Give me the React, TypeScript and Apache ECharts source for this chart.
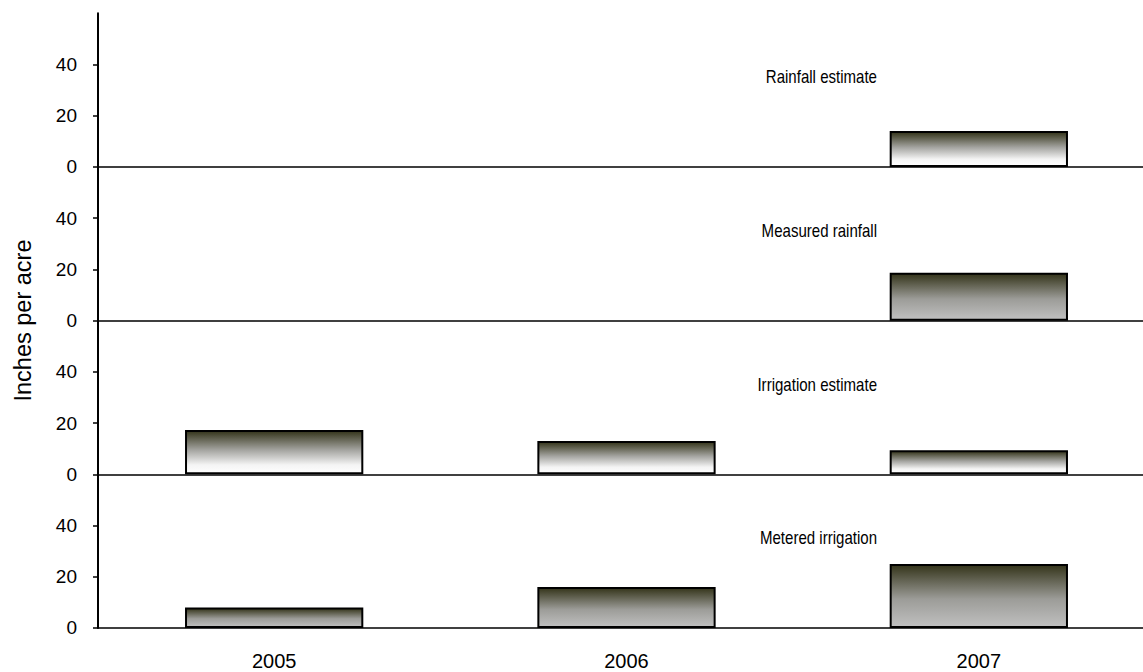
import React, { useEffect, useRef } from "react";
import * as echarts from "echarts";

const years = ["2005", "2006", "2007"];
const panelTitles = ["Rainfall estimate", "Measured rainfall", "Irrigation estimate", "Metered irrigation"];
const rainfallEstimate = [null, null, 14];
const measuredRainfall = [null, null, 18.7];
const irrigationEstimate = [17.3, 13, 9.4];
const meteredIrrigation = [8, 16, 25];
const yTicks = [0, 20, 40];
const yMax = 60;
const axisName = "Inches per acre";

const FONT = "Liberation Sans, Arial, sans-serif";

const lightGrad = {
  type: "linear", x: 0, y: 0, x2: 0, y2: 1,
  colorStops: [
    { offset: 0, color: "#34341a" },
    { offset: 0.45, color: "#a4a4a0" },
    { offset: 0.8, color: "#f4f4f4" },
    { offset: 1, color: "#ffffff" },
  ],
};
const darkGrad = {
  type: "linear", x: 0, y: 0, x2: 0, y2: 1,
  colorStops: [
    { offset: 0, color: "#34341a" },
    { offset: 0.55, color: "#9c9c98" },
    { offset: 1, color: "#c0c0c0" },
  ],
};

export default function App() {
  const ref = useRef<HTMLDivElement>(null);
  useEffect(() => {
    document.body.style.margin = "0";
    const chart = echarts.init(ref.current!, null, { renderer: "svg" });
    const seriesData = [rainfallEstimate, measuredRainfall, irrigationEstimate, meteredIrrigation];
    const grads = [lightGrad, darkGrad, lightGrad, darkGrad];
    const panelTop = 13.3;
    const panelH = 153.67;
    const grids = seriesData.map((_, i) => ({
      left: 98,
      top: panelTop + i * panelH,
      width: 1057,
      height: panelH,
    }));
    const xAxes = seriesData.map((_, i) => ({
      type: "category",
      gridIndex: i,
      data: years,
      axisLine: { lineStyle: { color: "#000", width: 1.6 } },
      axisTick: { show: false },
      axisLabel: {
        show: i === 3,
        color: "#000",
        fontFamily: FONT,
        fontSize: 20,
        margin: 23,
      },
    }));
    const yAxes = seriesData.map((_, i) => ({
      type: "value",
      gridIndex: i,
      min: 0,
      max: yMax,
      interval: 20,
      splitLine: { show: false },
      axisLine: { show: true, lineStyle: { color: "#000", width: 2 } },
      axisTick: { show: true, length: 5, customValues: yTicks, lineStyle: { color: "#000", width: 1.5 } },
      axisLabel: {
        customValues: yTicks,
        color: "#000",
        fontFamily: FONT,
        fontSize: 19,
        margin: 21,
      },
    }));
    const series = seriesData.map((d, i) => ({
      type: "bar",
      xAxisIndex: i,
      yAxisIndex: i,
      data: d,
      barWidth: "50.6%",
      itemStyle: { color: grads[i], borderColor: "#000", borderWidth: 2 },
    }));
    const graphics: any[] = panelTitles.map((t, i) => ({
      type: "text",
      x: 877,
      y: panelTop + i * panelH + 63.7,
      scaleX: 0.86,
      style: {
        text: t,
        align: "right",
        verticalAlign: "middle",
        fontFamily: FONT,
        fontSize: 17.5,
        fill: "#000",
      },
    }));
    graphics.push({
      type: "text",
      x: 22.5,
      y: 320.5,
      rotation: Math.PI / 2,
      style: {
        text: axisName,
        align: "center",
        verticalAlign: "middle",
        fontFamily: FONT,
        fontSize: 23.5,
        fill: "#000",
      },
    });
    chart.setOption({
      animation: false,
      backgroundColor: "#fff",
      grid: grids,
      xAxis: xAxes,
      yAxis: yAxes,
      series,
      graphic: graphics,
    });
    return () => chart.dispose();
  }, []);
  return (
    <div style={{ width: 1143, height: 672, overflow: "hidden" }}>
      <div ref={ref} style={{ width: 1160, height: 672 }} />
    </div>
  );
}
